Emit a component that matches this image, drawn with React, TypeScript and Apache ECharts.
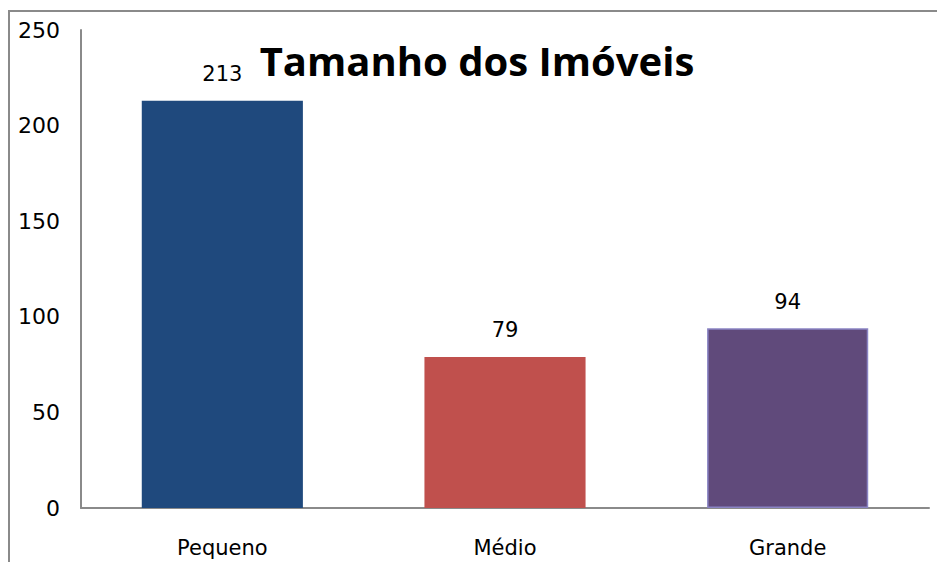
import React, { useEffect, useRef } from "react";
import * as echarts from "echarts";

const categories = ["Pequeno", "Médio", "Grande"];
const values = [213, 79, 94];
const barColors = ["#1F497D", "#C0504D", "#604A7B"];
const titleText = "Tamanho dos Imóveis";

export default function App() {
  const ref = useRef<HTMLDivElement>(null);
  useEffect(() => {
    if (!ref.current) return;
    const chart = echarts.init(ref.current, null, { renderer: "svg" });
    chart.setOption({
      animation: false,
      backgroundColor: "#ffffff",
      title: {
        text: titleText,
        left: 472,
        top: 35,
        textAlign: "center",
        textStyle: {
          fontFamily: "Open Sans",
          fontWeight: "bold",
          fontSize: 40,
          color: "#000",
        },
      },
      graphic: [
        {
          type: "line",
          shape: { x1: 8, y1: 11, x2: 937, y2: 11 },
          style: { stroke: "#8a8a8a", lineWidth: 2 },
        },
        {
          type: "line",
          shape: { x1: 9, y1: 10, x2: 9, y2: 562 },
          style: { stroke: "#8a8a8a", lineWidth: 2 },
        },
      ],
      grid: { left: 81, right: 8, top: 30, bottom: 54, containLabel: false },
      xAxis: {
        type: "category",
        data: categories,
        axisLine: { lineStyle: { color: "#8a8a8a", width: 2 } },
        axisTick: { show: false },
        axisLabel: {
          margin: 29,
          fontFamily: "DejaVu Sans",
          fontSize: 21,
          color: "#000",
        },
      },
      yAxis: {
        type: "value",
        min: 0,
        max: 250,
        interval: 50,
        splitLine: { show: false },
        axisLine: { show: true, lineStyle: { color: "#8a8a8a", width: 2 } },
        axisTick: { show: false },
        axisLabel: {
          margin: 21,
          fontFamily: "DejaVu Sans",
          fontSize: 22,
          color: "#000",
        },
      },
      series: [
        {
          type: "bar",
          barWidth: "57%",
          data: values.map((v, i) => ({
            value: v,
            itemStyle: {
              color: barColors[i],
              borderColor: i === 2 ? "#8a84c4" : barColors[i],
              borderWidth: i === 2 ? 1.5 : 0,
            },
          })),
          label: {
            show: true,
            position: "top",
            distance: 16,
            fontFamily: "DejaVu Sans",
            fontSize: 21,
            color: "#000",
          },
        },
      ],
    });
    return () => chart.dispose();
  }, []);
  return (
    <div
      ref={ref}
      style={{ position: "fixed", left: 0, top: 0, width: 937, height: 562 }}
    />
  );
}
